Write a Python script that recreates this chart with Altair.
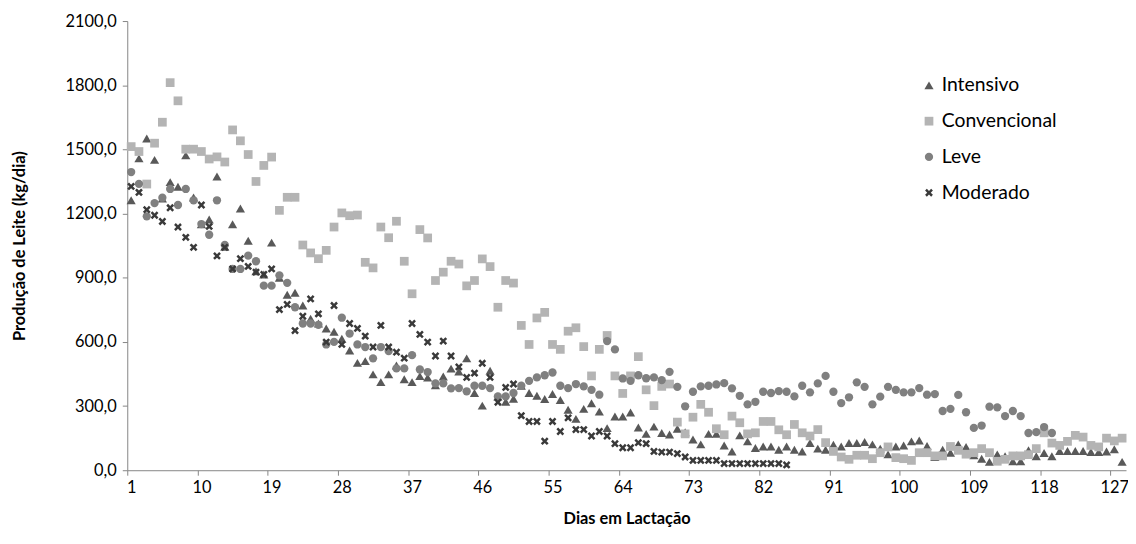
import altair as alt
import pandas as pd

series_names = ["Intensivo", "Convencional", "Leve", "Moderado"]

intensivo = [1262, 1458, 1551, 1451, 1270, 1347, 1325, 1472, 1275, 1150,
             1172, 1373, 1045, 1150, 1224, 1073, 930, 915, 1064, 900,
             820, 830, 770, 708, 686, 663, 647, 615, 560, 502,
             510, 448, 412, 448, 490, 425, 412, 440, 433, 397,
             438, 475, 462, 523, 361, 302, 465, 345, 320, 334,
             395, 361, 348, 333, 356, 328, 283, 240, 287, 313,
             274, 197, 251, 251, 270, 200, 170, 204, 174, 167,
             194, 178, 144, 121, 170, 170, 116, 88, 163, 135,
             104, 111, 111, 96, 111, 96, 88, 127, 101, 96,
             119, 111, 127, 127, 132, 121, 101, 74, 111, 116,
             135, 139, 113, 62, 96, 82, 121, 109, 70, 54,
             39, 74, 65, 42, 42, 93, 65, 81, 65, 90,
             90, 90, 90, 85, 85, 88, 98, 39]

convencional = [1513, 1490, 1338, 1529, 1627, 1812, 1727, 1501, 1501, 1490,
                1455, 1465, 1441, 1591, 1540, 1476, 1350, 1425, 1464, 1215,
                1276, 1276, 1053, 1016, 989, 1028, 1137, 1203, 1190, 1193,
                972, 946, 1137, 1087, 1164, 977, 825, 1125, 1086, 887,
                926, 977, 964, 862, 887, 988, 952, 762, 887, 875,
                677, 588, 712, 738, 588, 565, 650, 666, 578, 441,
                565, 630, 441, 359, 441, 531, 376, 302, 392, 403,
                225, 170, 248, 308, 271, 194, 166, 253, 222, 170,
                175, 228, 228, 189, 166, 214, 175, 160, 190, 129,
                88, 62, 51, 70, 70, 54, 82, 109, 59, 54,
                46, 82, 82, 67, 67, 111, 93, 75, 82, 101,
                82, 42, 51, 67, 67, 73, 101, 175, 127, 116,
                135, 163, 155, 116, 109, 150, 137, 150]

leve = [1394, 1339, 1187, 1249, 1274, 1315, 1240, 1315, 1262, 1151,
        1101, 1262, 1053, 941, 941, 1003, 977, 863, 863, 911,
        876, 762, 686, 686, 680, 588, 600, 713, 639, 588,
        576, 523, 576, 557, 476, 476, 538, 471, 459, 406,
        406, 383, 384, 369, 395, 395, 384, 345, 345, 361,
        395, 418, 434, 444, 457, 395, 384, 403, 392, 376,
        353, 604, 565, 429, 418, 444, 430, 434, 421, 460,
        390, 299, 367, 392, 395, 401, 407, 383, 348, 308,
        320, 367, 361, 370, 367, 345, 395, 364, 406, 441,
        367, 314, 341, 411, 390, 308, 344, 390, 376, 364,
        364, 384, 353, 356, 277, 287, 352, 271, 198, 209,
        297, 294, 253, 277, 253, 174, 178, 202, 174]

moderado = [1327, 1299, 1218, 1192, 1163, 1227, 1137, 1089, 1042, 1240,
            1140, 1002, 1042, 941, 989, 953, 926, 915, 941, 751,
            775, 653, 720, 801, 731, 599, 770, 588, 686, 663,
            627, 576, 677, 576, 552, 524, 686, 635, 599, 534,
            604, 534, 483, 434, 454, 500, 434, 318, 387, 403,
            255, 228, 228, 136, 228, 181, 245, 190, 190, 160,
            181, 160, 124, 105, 105, 129, 124, 88, 85, 85,
            78, 62, 46, 46, 46, 46, 31, 31, 31, 31,
            31, 31, 31, 31, 25]

x_tick_labels = [1, 10, 19, 28, 37, 46, 55, 64, 73, 82, 91, 100, 109, 118, 127]
y_tick_values = [0, 300, 600, 900, 1200, 1500, 1800, 2100]

colors = ["#595959", "#b4b4b4", "#808080", "#3a3a3a"]
X_PATH = ("M-1,-0.55L-0.55,-1L0,-0.45L0.55,-1L1,-0.55L0.45,0L1,0.55L0.55,1"
          "L0,0.45L-0.55,1L-1,0.55L-0.45,0Z")
shapes = ["triangle-up", "square", "circle", X_PATH]
marker_sizes = [85, 62, 72, 64]

rows = []
for name, vals in zip(series_names, [intensivo, convencional, leve, moderado]):
    for i, v in enumerate(vals):
        rows.append({"dia": i + 1, "valor": v, "serie": name})
df = pd.DataFrame(rows)

FONT = "Lato"
W, H = 1005, 452
half_day = W / 128 / 2

legend = alt.Legend(
    title=None, orient="none", legendX=797, legendY=55,
    symbolSize=50, labelFontSize=19.5, labelFont=FONT, labelColor="#000000",
    rowPadding=15, labelOffset=3, symbolStrokeWidth=0,
)

chart = alt.Chart(df).mark_point(filled=True, opacity=1).encode(
    x=alt.X("dia:Q",
            scale=alt.Scale(domain=[0.5, 128.5], nice=False, zero=False),
            axis=alt.Axis(values=x_tick_labels, title="Dias em Lactação",
                          tickOffset=-half_day, labelOffset=half_day,
                          format="d", grid=False,
                          titleX=W / 2, titleY=49, titleBaseline="middle")),
    y=alt.Y("valor:Q",
            scale=alt.Scale(domain=[0, 2100], nice=False),
            axis=alt.Axis(values=y_tick_values, title="Produção de Leite (kg/dia)",
                          labelExpr="replace(format(datum.value, '.1f'), '.', ',')",
                          grid=False, titleX=-108, titleY=H / 2, labelPadding=6,
                          titleBaseline="middle")),
    color=alt.Color("serie:N", scale=alt.Scale(domain=series_names, range=colors),
                    legend=legend),
    shape=alt.Shape("serie:N", scale=alt.Scale(domain=series_names, range=shapes),
                    legend=legend),
    size=alt.Size("serie:N", scale=alt.Scale(domain=series_names, range=marker_sizes),
                  legend=None),
).properties(
    width=W, height=H,
    autosize=alt.AutoSizeParams(type="none"),
    padding={"left": 120, "top": 11.5, "right": 2, "bottom": 56},
).configure_view(
    stroke=None
).configure_axis(
    domainColor="#868686", tickColor="#868686", tickSize=5,
    labelFont=FONT, labelFontSize=16.5, labelColor="#000000", labelPadding=4,
    titleFont=FONT, titleFontSize=16.5, titleFontWeight="bold", titleColor="#000000",
)

chart.save("out.html", embed_options={"renderer": "svg", "actions": False})
